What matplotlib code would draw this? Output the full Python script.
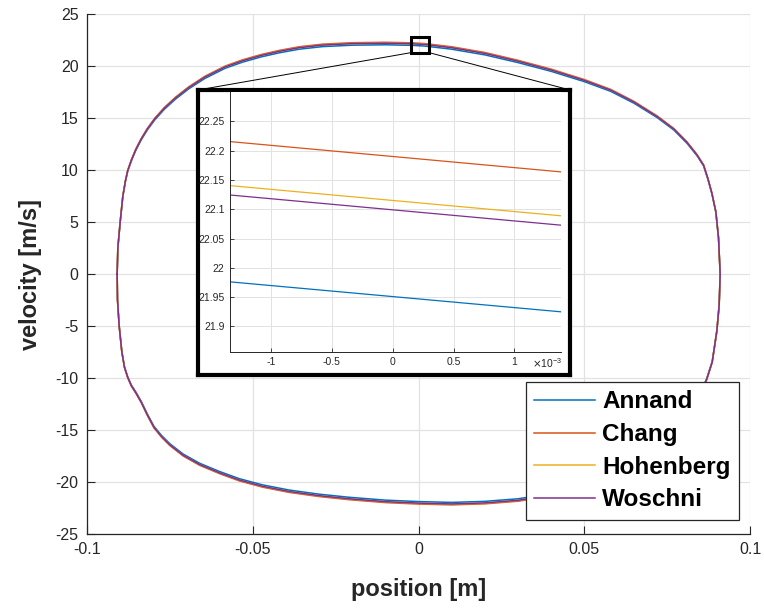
import matplotlib
matplotlib.use("Agg")
import matplotlib.pyplot as plt
import numpy as np
from matplotlib.patches import Rectangle, ConnectionPatch
from matplotlib.ticker import FuncFormatter

plt.rcParams['font.family'] = ['Liberation Sans', 'DejaVu Sans']
plt.rcParams['axes.unicode_minus'] = False

# Phase-plane loop (position [m], velocity [m/s]) for the reference heat-transfer model
pos_ref = [-0.0909, -0.0907, -0.0900, -0.0892, -0.0884, -0.0877, -0.0866, -0.0853,
           -0.0837, -0.0818, -0.0795, -0.0767, -0.0733, -0.0693, -0.0645, -0.0583,
           -0.0530, -0.0475, -0.0420, -0.0360, -0.0290, -0.0200, -0.0100, -0.0020,
           0.0020, 0.0100, 0.0200, 0.0300, 0.0400, 0.0500, 0.0580, 0.0650,
           0.0720, 0.0770, 0.0810, 0.0840, 0.0860, 0.0873, 0.0885, 0.0897,
           0.0905, 0.0910, 0.0907, 0.0900, 0.0886, 0.0869, 0.0835, 0.0780,
           0.0700, 0.0600, 0.0500, 0.0400, 0.0300, 0.0200, 0.0100, 0.0000,
           -0.0100, -0.0210, -0.0300, -0.0390, -0.0470, -0.0540, -0.0600, -0.0660,
           -0.0710, -0.0750, -0.0775, -0.0798, -0.0818, -0.0836, -0.0852, -0.0866,
           -0.0877, -0.0887, -0.0895, -0.0903, -0.0908, -0.0909]
vel_ref = [0.0, 2.5, 5.0, 7.5, 9.0, 10.0, 11.0, 12.0,
           13.0, 14.0, 15.0, 16.0, 17.0, 18.0, 19.0, 20.0,
           20.6, 21.1, 21.5, 21.85, 22.1, 22.24, 22.28, 22.228,
           22.152, 21.85, 21.3, 20.55, 19.7, 18.7, 17.75, 16.6,
           15.2, 14.0, 12.7, 11.5, 10.5, 9.2, 7.8, 6.0,
           3.5, 0.0, -3.0, -5.5, -8.5, -10.2, -12.6, -15.0,
           -17.3, -19.2, -20.5, -21.35, -21.85, -22.1, -22.2, -22.12,
           -21.98, -21.7, -21.4, -21.0, -20.5, -19.9, -19.2, -18.4,
           -17.5, -16.5, -15.7, -14.8, -13.6, -12.4, -11.5, -10.8,
           -10.0, -9.0, -7.5, -5.0, -2.5, 0.0]

models = ['Annand', 'Chang', 'Hohenberg', 'Woschni']
# velocity at position 0 on the upper branch for each model [m/s]
vel_at_centre = [21.953, 22.192, 22.117, 22.101]
colors = ['#0072BD', '#D95319', '#EDB120', '#7E2F8E']

x_ticks = [-0.1, -0.05, 0, 0.05, 0.1]
y_ticks = [-25, -20, -15, -10, -5, 0, 5, 10, 15, 20, 25]
inset_x_ticks = [-1e-3, -0.5e-3, 0, 0.5e-3, 1e-3]
inset_y_ticks = [21.9, 21.95, 22.0, 22.05, 22.1, 22.15, 22.2, 22.25]

TXT = '#262626'
GRID = '#e2e2e2'

fig = plt.figure(figsize=(7.64, 6.11), dpi=100)
fig.patch.set_facecolor('white')
ax = fig.add_axes([87 / 764, (611 - 534) / 611, 663 / 764, 520 / 611])

pos_ref_a = np.array(pos_ref)
vel_ref_a = np.array(vel_ref)
ref_centre = vel_at_centre[models.index('Chang')]
series = []
for name, vc, c in zip(models, vel_at_centre, colors):
    v = vel_ref_a * vc / ref_centre
    series.append(v)
    ax.plot(pos_ref_a, v, color=c, lw=1.1, label=name, solid_joinstyle='round')

ax.set_xlim(-0.1, 0.1)
ax.set_ylim(-25, 25)
ax.set_xticks(x_ticks)
ax.set_yticks(y_ticks)
ax.xaxis.set_major_formatter(FuncFormatter(lambda v, p: f"{v:g}"))
ax.grid(True, color=GRID, lw=0.9)
ax.set_axisbelow(True)
for s in ['top', 'right']:
    ax.spines[s].set_visible(False)
for s in ['left', 'bottom']:
    ax.spines[s].set_color(TXT)
    ax.spines[s].set_linewidth(0.9)
ax.tick_params(direction='in', length=6, width=0.8, colors=TXT, labelsize=11.5, pad=6)
ax.set_xlabel('position [m]', fontsize=17, fontweight='bold', color=TXT)
ax.set_ylabel('velocity [m/s]', fontsize=17, fontweight='bold', color=TXT)
ax.xaxis.set_label_coords(0.5, -0.085)
ax.yaxis.set_label_coords(-0.068, 0.5)

leg = ax.legend(loc='lower right', bbox_to_anchor=(739 / 764, (611 - 520) / 611),
                bbox_transform=fig.transFigure, borderaxespad=0, fancybox=False,
                framealpha=1, edgecolor=TXT, prop={'size': 17.5, 'weight': 'bold'},
                handlelength=2.5, handletextpad=0.3, labelspacing=0.4, borderpad=0.35)
leg.get_frame().set_linewidth(0.9)

# zoom marker on the main curve
zx0, zx1, zy0, zy1 = -0.00235, 0.00326, 21.28, 22.8
ax.add_patch(Rectangle((zx0, zy0), zx1 - zx0, zy1 - zy0, fill=False,
                       edgecolor='black', lw=2.2, zorder=10))

# framed magnified view
frame_box = [198 / 764, (611 - 375) / 611, 372 / 764, 285 / 611]
fax = fig.add_axes(frame_box)
fax.set_facecolor('white')
fax.set_xticks([])
fax.set_yticks([])
for s in fax.spines.values():
    s.set_linewidth(3)
    s.set_color('black')

for (xa, ya), (xb, yb) in [((zx0, zy0), (frame_box[0], frame_box[1] + frame_box[3])),
                           ((zx1, zy0), (frame_box[0] + frame_box[2], frame_box[1] + frame_box[3]))]:
    con = ConnectionPatch(xyA=(xa, ya), coordsA=ax.transData, xyB=(xb, yb),
                          coordsB=fig.transFigure, color='black', lw=0.7)
    fig.add_artist(con)

iax = fig.add_axes([230 / 764, (611 - 351.7) / 611, 331 / 764, 259.7 / 611])
iax.set_facecolor('white')
for name, v, c in zip(models, series, colors):
    iax.plot(pos_ref_a, v, color=c, lw=0.9)
iax.set_xlim(-0.001337, 0.001383)
iax.set_ylim(21.857, 22.30)
iax.set_xticks(inset_x_ticks)
iax.set_yticks(inset_y_ticks)
iax.xaxis.set_major_formatter(FuncFormatter(lambda v, p: f"{round(v * 1e3, 3):g}"))
iax.yaxis.set_major_formatter(FuncFormatter(lambda v, p: f"{round(v, 2):g}"))
iax.grid(True, color=GRID, lw=0.7)
iax.set_axisbelow(True)
for s in ['top', 'right']:
    iax.spines[s].set_visible(False)
for s in ['left', 'bottom']:
    iax.spines[s].set_color(TXT)
    iax.spines[s].set_linewidth(0.7)
iax.tick_params(direction='in', length=3, width=0.6, colors=TXT, labelsize=7.5, pad=4)
iax.text(1.005, -0.045, r'$\times\mathregular{10^{-3}}$', transform=iax.transAxes,
         ha='right', va='center', fontsize=7.5, color=TXT)

fig.savefig('out.png', dpi=100, facecolor='white')
